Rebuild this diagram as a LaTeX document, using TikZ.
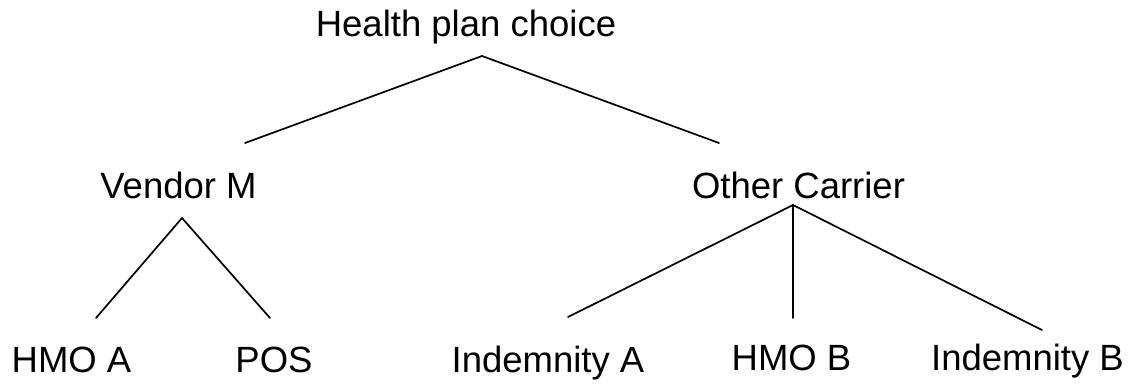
\documentclass[tikz,border=0pt]{standalone}
\usepackage{fontspec}
\setmainfont{Liberation Sans}
\usetikzlibrary{positioning,calc}
\tikzset{
    x=1pt,
    y=-1pt,
    choice/.style = {
        shape=rectangle,
        inner sep=0pt,
        anchor=base,
        font=\fontsize{36.5}{43}\selectfont
    },
    branch/.style = {
        draw,
        line width=1.7pt,
        line cap=round
    },
}

\begin{document}
\begin{tikzpicture}
            \useasboundingbox (0,0) rectangle (1135,385);

            \node[choice] (plan) at (466,37) {Health plan choice};
            \node[choice] (vendor) at (178.5,198) {Vendor M};
            \node[choice] (other) at (798.5,198) {Other Carrier};
            \node[choice] (hmoa) at (71.5,372) {HMO A};
            \node[choice] (pos) at (274,372) {POS};
            \node[choice] (indema) at (548,372) {Indemnity A};
            \node[choice] (hmob) at (791.5,370) {HMO B};
            \node[choice] (indemb) at (1027.5,370) {Indemnity B};

            % branch points and line ends
            \coordinate (plan-fork) at (482,56);
            \coordinate (vendor-in) at (245,143);
            \coordinate (other-in) at (719,143);
            \coordinate (vendor-fork) at (182,218);
            \coordinate (hmoa-in) at (96,318);
            \coordinate (pos-in) at (270,318);
            \coordinate (other-fork) at (793,205);
            \coordinate (indema-in) at (568,317);
            \coordinate (hmob-in) at (793,318);
            \coordinate (indemb-in) at (1042,330);

            \path[branch] (plan-fork) -- (vendor-in);
            \path[branch] (plan-fork) -- (other-in);

            \path[branch] (vendor-fork) -- (hmoa-in);
            \path[branch] (vendor-fork) -- (pos-in);

            \path[branch] (other-fork) -- (indema-in);
            \path[branch] (other-fork) -- (hmob-in);
            \path[branch] (other-fork) -- (indemb-in);
\end{tikzpicture}
\end{document}
